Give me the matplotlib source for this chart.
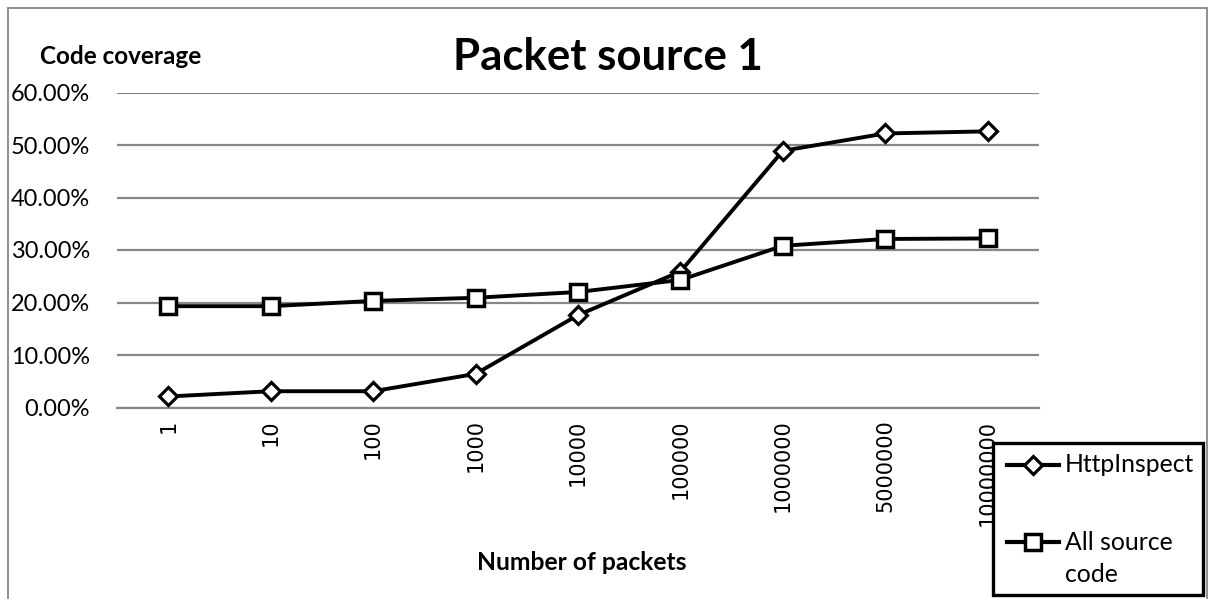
import matplotlib
matplotlib.use("Agg")
import matplotlib.pyplot as plt
from matplotlib.patches import Rectangle
from matplotlib.lines import Line2D
from matplotlib.ticker import FuncFormatter

# Packet counts (category axis) and measured coverage, in percent
packets = ["1", "10", "100", "1000", "10000", "100000", "1000000", "5000000", "10000000"]
http_inspect = [2.1, 3.1, 3.1, 6.4, 17.6, 25.9, 48.9, 52.2, 52.6]
all_source = [19.3, 19.3, 20.3, 20.9, 22.0, 24.3, 30.8, 32.1, 32.2]
series_names = ["HttpInspect", "All source code"]
y_ticks = [0, 10, 20, 30, 40, 50, 60]

W, H = 1210, 599
fig = plt.figure(figsize=(W / 100, H / 100), dpi=100)
PX = 72 / 100  # points per pixel


def fx(px):
    return px / W


def fy(py):
    return 1 - py / H


ax = fig.add_axes([fx(117), fy(407.5), fx(1039) - fx(117), fy(92.5) - fy(407.5)])
grid_c = "#878787"
ui_font = "Lato"

styles = [dict(marker="D", ms=9, mew=2.3), dict(marker="s", ms=11.5, mew=2.5)]
x = range(len(packets))
for vals, name, st in zip([http_inspect, all_source], series_names, styles):
    ax.plot(x, vals, color="black", lw=2.8, mfc="white", mec="black",
            label=name, zorder=3, **st)

ax.set_xlim(-0.5, len(packets) - 0.5)
ax.set_ylim(0, 60)
ax.set_yticks(y_ticks)
ax.yaxis.set_major_formatter(FuncFormatter(lambda v, p: f"{v:.2f}%"))
ax.yaxis.grid(True, color=grid_c, lw=1.6)
ax.set_axisbelow(True)
for s in ["left", "right", "top"]:
    ax.spines[s].set_visible(False)
ax.spines["bottom"].set_color(grid_c)
ax.spines["bottom"].set_linewidth(1.6)
ax.tick_params(axis="y", length=0, pad=27 * PX, labelsize=16.9)
for t in ax.get_yticklabels():
    t.set_fontfamily(ui_font)
ax.set_xticks(list(x))
ax.set_xticklabels(packets, rotation=90, fontsize=15, family="DejaVu Sans", va="top")
ax.tick_params(axis="x", length=0, pad=12 * PX)

fig.text(fx(40), fy(57), "Code coverage", fontsize=17.5, fontweight="bold",
         family=ui_font, va="center", ha="left")
fig.text(fx(608), fy(57), "Packet source 1", fontsize=31.5, fontweight="bold",
         family=ui_font, va="center", ha="center")
fig.text(fx(582), fy(562), "Number of packets", fontsize=17.7, fontweight="bold",
         family=ui_font, va="center", ha="center")

# Outer chart frame
fig.add_artist(Rectangle((fx(8), fy(640)), fx(1207) - fx(8), fy(8) - fy(640),
                         transform=fig.transFigure, fill=False,
                         ec=grid_c, lw=1.3))

# Legend box with a sample line per series
fig.add_artist(Rectangle((fx(993), fy(595)), fx(1203) - fx(993), fy(443) - fy(595),
                         transform=fig.transFigure, fill=True, fc="white",
                         ec="black", lw=2.4, zorder=5))
legend_rows = [(465, ["HttpInspect"]), (542, ["All source", "code"])]
for (row_y, lines), st in zip(legend_rows, styles):
    fig.add_artist(Line2D([fx(1007), fx(1059)], [fy(row_y), fy(row_y)],
                          transform=fig.transFigure, color="black", lw=3.0,
                          zorder=6))
    fig.add_artist(Line2D([fx(1033)], [fy(row_y)], transform=fig.transFigure,
                          color="black", mfc="white", mec="black", zorder=7,
                          **st))
    for i, line in enumerate(lines):
        fig.text(fx(1065), fy(row_y + 33 * i), line, fontsize=17.8,
                 family=ui_font, va="center", ha="left", zorder=7)

fig.savefig("out.png", dpi=100)
